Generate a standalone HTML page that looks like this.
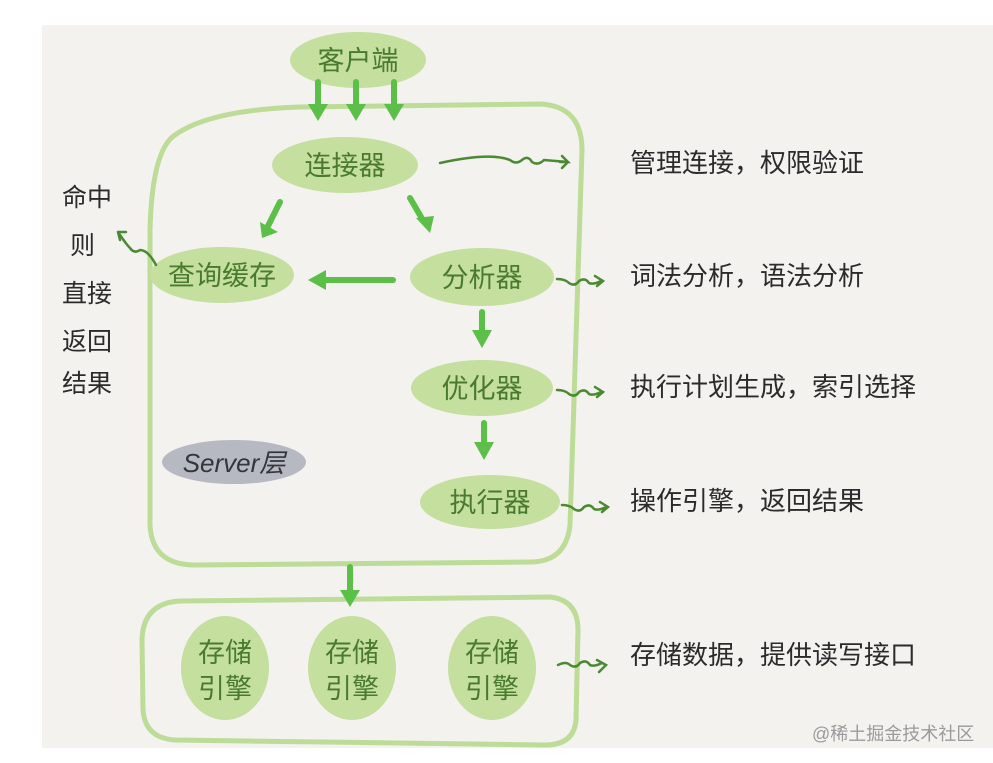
<!DOCTYPE html>
<html><head><meta charset="utf-8"><style>
html,body{margin:0;padding:0;background:#fff;}
svg{display:block;}
text{font-family:"Liberation Sans","Noto Sans CJK SC",sans-serif;}
</style></head><body>
<svg width="993" height="763" viewBox="0 0 993 763" xmlns="http://www.w3.org/2000/svg">
<defs>
<marker id="ah" markerWidth="4" markerHeight="4" refX="2" refY="2" orient="auto" markerUnits="strokeWidth"><path d="M0,0 L4,2 L0,4 Z" fill="#5cbf48"/></marker>
</defs>
<rect x="42" y="25" width="951" height="723" fill="#f3f2ef"/>
<!-- server box -->
<path d="M300,107 L540,104 Q582,106 582,150 L570,525 Q566,562 530,562 L195,565 Q152,565 150,525 L150,230 Q152,150 175,135 Q210,110 300,107 Z" fill="none" stroke="#bcdc98" stroke-width="5"/>
<!-- storage box -->
<path d="M180,601 L550,597 Q578,600 578,630 L576,720 Q574,745 545,745 L175,740 Q145,738 143,710 L142,640 Q143,603 180,601 Z" fill="none" stroke="#bcdc98" stroke-width="5"/>
<g fill="#c4df9e">
<ellipse cx="358" cy="60" rx="68" ry="28"/>
<ellipse cx="345" cy="165" rx="73" ry="28"/>
<ellipse cx="222" cy="275" rx="72" ry="28"/>
<ellipse cx="482" cy="277" rx="72" ry="29"/>
<ellipse cx="482" cy="388" rx="71" ry="28"/>
<ellipse cx="490" cy="502" rx="70" ry="27"/>
<ellipse cx="225" cy="668" rx="44" ry="52"/>
<ellipse cx="352" cy="668" rx="44" ry="52"/>
<ellipse cx="492" cy="668" rx="44" ry="52"/>
</g>
<ellipse cx="234" cy="462" rx="72" ry="22" fill="#b6b9c1"/>
<!-- arrows -->
<g stroke="#5cbf48" stroke-width="6" fill="none" stroke-linecap="round">
<line x1="318" y1="82" x2="318" y2="108"/>
<line x1="356" y1="82" x2="356" y2="108"/>
<line x1="394" y1="82" x2="394" y2="108"/>
<line x1="280" y1="202" x2="268" y2="226"/>
<line x1="410" y1="198" x2="424" y2="222"/>
<line x1="393" y1="280" x2="322" y2="280"/>
<line x1="482" y1="312" x2="482" y2="336"/>
<line x1="484" y1="423" x2="484" y2="447"/>
<line x1="350" y1="567" x2="350" y2="594"/>
</g>
<g fill="#5cbf48">
<polygon points="308,104 328,104 318,121"/>
<polygon points="346,104 366,104 356,121"/>
<polygon points="384,104 404,104 394,121"/>
<polygon points="260,222 278,232 262,238"/>
<polygon points="416,218 434,216 430,233"/>
<polygon points="326,270 326,290 308,280"/>
<polygon points="472,330 492,330 482,348"/>
<polygon points="474,442 494,442 484,460"/>
<polygon points="340,590 360,590 350,607"/>
</g>
<!-- squiggle connectors -->
<g stroke="#4a8a32" stroke-width="2.5" fill="none" stroke-linecap="round">
<path d="M440,163 Q490,152 510,160 q6,5 12,0 q6,-5 10,2 q6,4 12,-2 L568,162"/>
<path d="M560,162 L568,162 L562,156 M568,162 L562,168"/>
<path d="M557,279 q8,0 12,4 q6,4 10,-2 q6,-4 10,2 q4,2 12,-2 M595,276 L603,281 L597,286"/>
<path d="M557,390 q8,0 12,4 q6,4 10,-2 q6,-4 10,2 q4,2 12,-2 M595,387 L603,392 L597,397"/>
<path d="M562,505 q8,0 12,4 q6,4 10,-2 q6,-4 10,2 q4,2 12,-2 M600,502 L608,507 L602,512"/>
<path d="M558,665 q8,-4 12,0 q6,4 10,-2 q6,-4 10,2 q4,2 12,-2 M597,660 L606,665 L599,672"/>
<path d="M156,265 Q148,250 140,250 q-6,4 -10,-2 q-4,-4 -12,-16 M118,232 L126,232 M118,232 L120,240"/>
</g>
<!-- node labels -->
<g fill="#4a7a2e" font-size="27" text-anchor="middle">
<text x="358" y="70">客户端</text>
<text x="345" y="175">连接器</text>
<text x="222" y="285">查询缓存</text>
<text x="482" y="287">分析器</text>
<text x="482" y="398">优化器</text>
<text x="490" y="512">执行器</text>
<text x="225" y="662">存储</text><text x="225" y="698">引擎</text>
<text x="352" y="662">存储</text><text x="352" y="698">引擎</text>
<text x="492" y="662">存储</text><text x="492" y="698">引擎</text>
</g>
<text x="234" y="472" font-size="26" fill="#33363a" text-anchor="middle" font-style="italic">Server层</text>
<!-- right labels -->
<g fill="#2b2b2b" font-size="26">
<text x="630" y="172">管理连接，权限验证</text>
<text x="630" y="285">词法分析，语法分析</text>
<text x="630" y="396">执行计划生成，索引选择</text>
<text x="630" y="510">操作引擎，返回结果</text>
<text x="630" y="664">存储数据，提供读写接口</text>
</g>
<g fill="#2b2b2b" font-size="25">
<text x="62" y="206">命中</text>
<text x="70" y="254">则</text>
<text x="62" y="302">直接</text>
<text x="62" y="350">返回</text>
<text x="62" y="392">结果</text>
</g>
<text x="812" y="740" font-size="18" fill="#9a9a9a">@稀土掘金技术社区</text>
</svg>
</body></html>
